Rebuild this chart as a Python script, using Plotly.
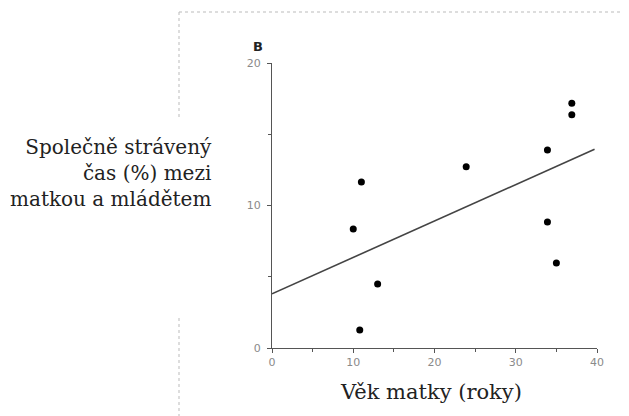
import numpy as np
import plotly.graph_objects as go

# Data
mother_age = [10.0, 11.0, 10.8, 13.0, 23.9, 33.9, 33.9, 35.0, 36.9, 36.9]
shared_time = [8.35, 11.65, 1.26, 4.5, 12.72, 13.9, 8.85, 5.96, 17.17, 16.37]
line_x = [0, 39.7]
x_tick_vals = [0, 10, 20, 30, 40]
y_tick_vals = [0, 10, 20]

# Least-squares fit from the data
slope, intercept = np.polyfit(mother_age, shared_time, 1)
line_y = [intercept + slope * v for v in line_x]

OFF = 8  # page body margin
W, H = 629 - OFF, 416 - OFF
L, R, T, B = 272 - OFF, 32, 63 - OFF, 68
pw, ph = W - L - R, H - T - B

def px(xp):
    return (xp - OFF - L) / pw

def py(yp):
    return (H - B - (yp - OFF)) / ph

fig = go.Figure()
fig.add_trace(go.Scatter(x=line_x, y=line_y, mode="lines",
                         line=dict(color="#444444", width=1.6),
                         hoverinfo="skip", showlegend=False))
fig.add_trace(go.Scatter(x=mother_age, y=shared_time, mode="markers",
                         marker=dict(color="black", size=7),
                         showlegend=False))

axis_common = dict(showline=True, linecolor="#555555", linewidth=1.2,
                   ticks="outside", ticklen=4, tickcolor="#555555",
                   showgrid=False, zeroline=False,
                   tickfont=dict(family="DejaVu Sans", size=11, color="#8a8a8a"))

fig.update_xaxes(range=[0, 40], tickvals=x_tick_vals,
                 minor=dict(dtick=5, tick0=0, ticks="outside", ticklen=3, tickcolor="#555555"),
                 **axis_common)
fig.update_yaxes(range=[0, 20], tickvals=y_tick_vals, ticklabelstandoff=4,
                 minor=dict(dtick=5, tick0=0, ticks="outside", ticklen=3, tickcolor="#555555"),
                 **axis_common)

dot = dict(color="#bbbbbb", width=1, dash="dot")
shapes = [
    dict(type="line", xref="paper", yref="paper", x0=px(179), x1=px(629), y0=py(12), y1=py(12), line=dot),
    dict(type="line", xref="paper", yref="paper", x0=px(179), x1=px(179), y0=py(12), y1=py(118), line=dot),
    dict(type="line", xref="paper", yref="paper", x0=px(179), x1=px(179), y0=py(318), y1=py(416), line=dot),
]

annotations = [
    dict(text="<b>B</b>", xref="paper", yref="paper", x=px(251), y=py(37),
         showarrow=False, font=dict(family="DejaVu Sans", size=13, color="#222222")),
    dict(text="Společně strávený<br>čas (%) mezi<br>matkou a mládětem", xref="paper", yref="paper",
         x=px(214), y=py(173), xanchor="right", yanchor="middle", align="right",
         showarrow=False, font=dict(family="DejaVu Serif", size=20, color="#222222")),
    dict(text="Věk matky (roky)", xref="paper", yref="paper", x=px(431), y=py(392),
         xanchor="center", yanchor="middle", showarrow=False,
         font=dict(family="DejaVu Serif", size=21, color="#222222")),
]

fig.update_layout(width=W, height=H, margin=dict(l=L, r=R, t=T, b=B),
                  plot_bgcolor="white", paper_bgcolor="white",
                  shapes=shapes, annotations=annotations)

fig.write_html("out.html")
